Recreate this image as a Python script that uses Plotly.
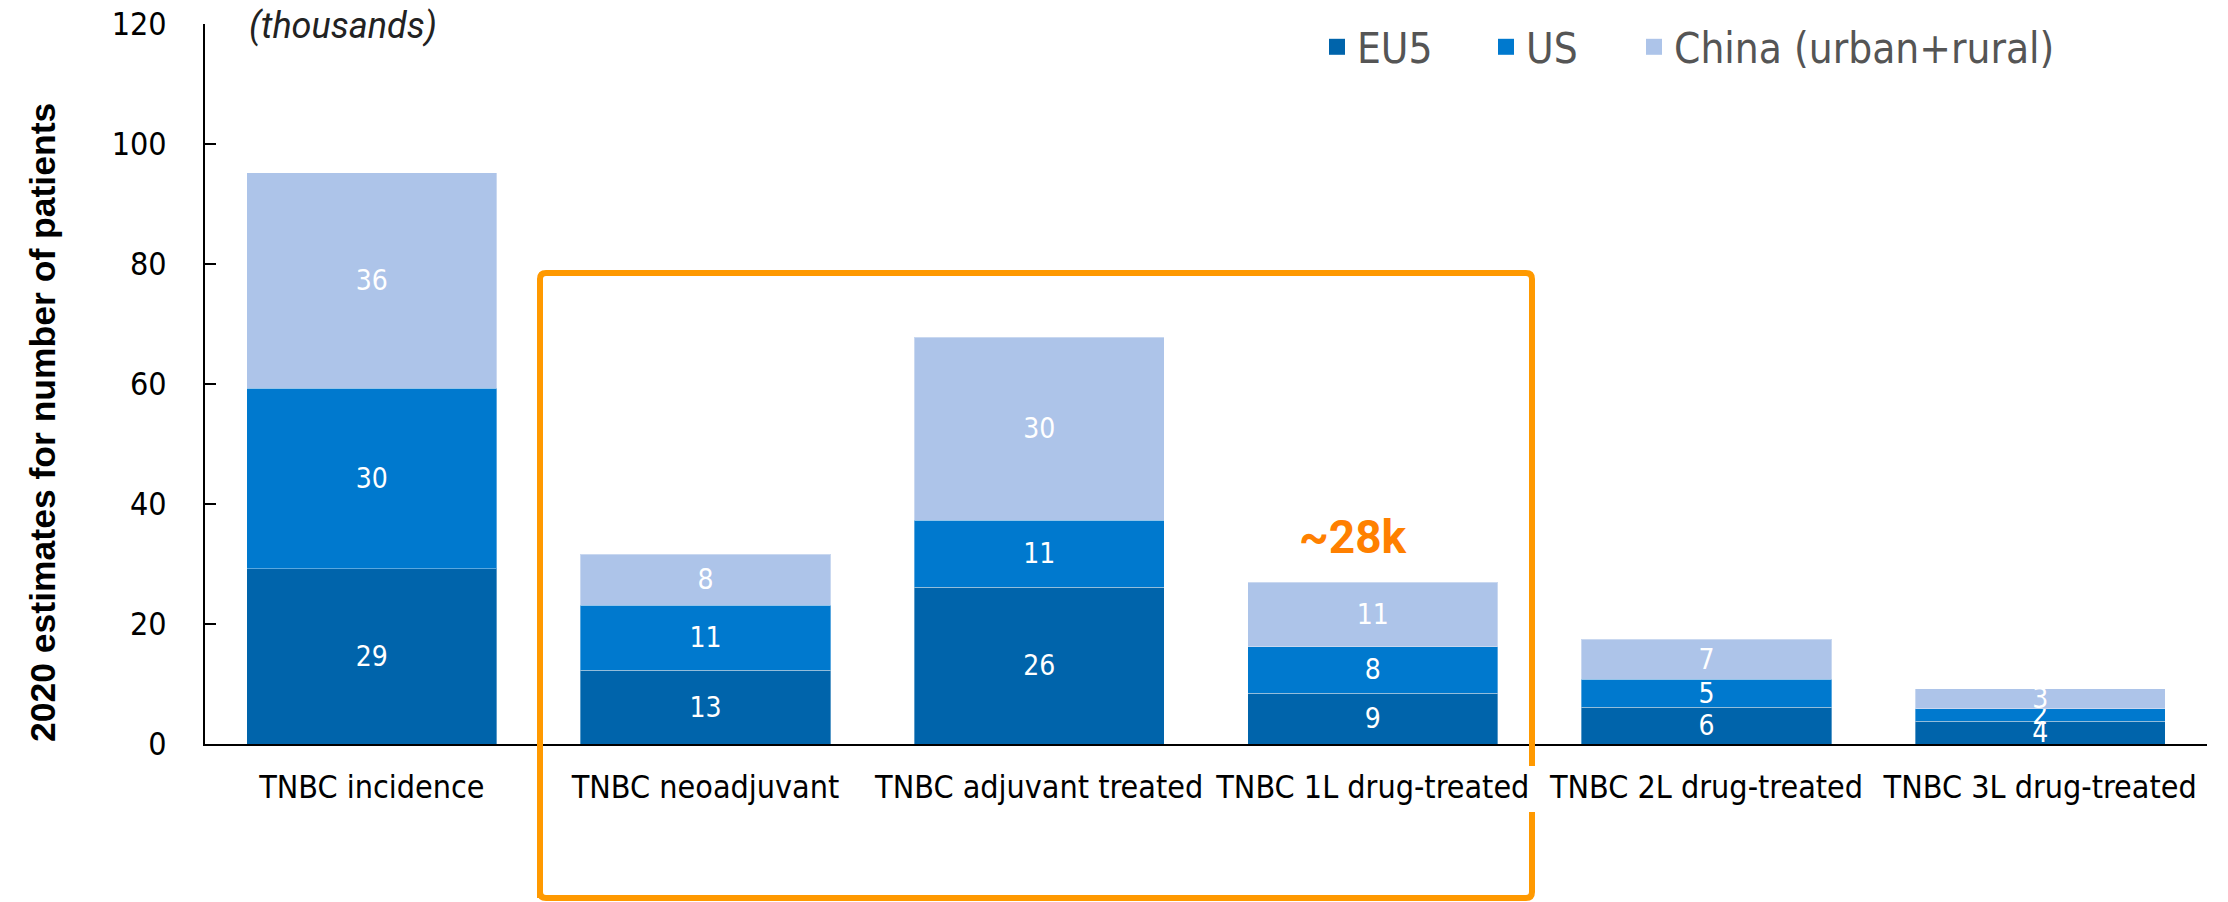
import plotly.graph_objects as go

categories = ["TNBC incidence", "TNBC neoadjuvant", "TNBC adjuvant treated",
              "TNBC 1L drug-treated", "TNBC 2L drug-treated", "TNBC 3L drug-treated"]

# thousands of patients
eu5 = [29.2, 12.3, 26.1, 8.5, 6.1, 3.8]
us = [30.1, 10.8, 11.2, 7.7, 4.7, 2.1]
china = [35.9, 8.5, 30.5, 10.8, 6.7, 3.3]

# labels as printed on the bars
eu5_labels = ["29", "13", "26", "9", "6", "4"]
us_labels = ["30", "11", "11", "8", "5", "2"]
china_labels = ["36", "8", "30", "11", "7", "3"]

y_ticks = [0, 20, 40, 60, 80, 100, 120]

NARROW = "Liberation Sans Narrow, Arial Narrow, DejaVu Sans Condensed, sans-serif"

W, H = 2228, 902
ML, MR, MT, MB = 197, 29, 16, 166
PW, PH = W - ML - MR, H - MT - MB
OFF = 8  # page body margin


def px_x(x):  # page pixel -> paper
    return (x - OFF - ML) / PW


def px_y(y):
    return (H - MB - (y - OFF)) / PH


fig = go.Figure()

series = [("EU5", eu5, eu5_labels, "#0064AB"),
          ("US", us, us_labels, "#0079CE"),
          ("China (urban+rural)", china, china_labels, "#ADC4E9")]
legend_ids = ["legend", "legend2", "legend3"]
legend_x = [1317, 1486, 1634]

for (name, vals, lbls, col), lid in zip(series, legend_ids):
    fig.add_trace(go.Bar(x=categories, y=vals, name=name, text=lbls,
                         textposition="inside", insidetextanchor="middle",
                         constraintext="none", textangle=0,
                         textfont=dict(color="white", size=28, family=NARROW),
                         marker_color=col,
                         marker_line=dict(color="rgba(255,255,255,0.35)", width=1),
                         showlegend=False, hoverinfo="skip"))
    # legend swatch with a bigger square
    fig.add_trace(go.Scatter(x=[None], y=[None], mode="markers", name=name, legend=lid,
                             marker=dict(symbol="square", size=16, color=col)))

legend_style = dict(orientation="h", xanchor="left", yanchor="middle", y=px_y(47),
                    font=dict(size=42, color="#555555", family=NARROW),
                    bgcolor="rgba(0,0,0,0)")

fig.update_layout(
    barmode="stack",
    bargap=0.25,
    width=W, height=H,
    margin=dict(l=ML, r=MR, t=MT, b=MB, autoexpand=False),
    paper_bgcolor="white",
    plot_bgcolor="rgba(0,0,0,0)",
    font=dict(family=NARROW, color="black"),
    legend=dict(x=px_x(legend_x[0]), **legend_style),
    legend2=dict(x=px_x(legend_x[1]), **legend_style),
    legend3=dict(x=px_x(legend_x[2]), **legend_style),
    showlegend=True,
)

fig.update_xaxes(showline=True, linecolor="black", linewidth=2, ticks="",
                 tickfont=dict(size=32, family=NARROW, color="black"),
                 ticklabelstandoff=14, range=[-0.5, 5.5], automargin=False)
fig.update_yaxes(range=[0, 120], tickvals=y_ticks, showgrid=False, zeroline=False,
                 showline=True, linecolor="black", linewidth=2,
                 ticks="inside", ticklen=11, tickwidth=2, tickcolor="black",
                 tickfont=dict(size=32, family=NARROW, color="black"),
                 ticklabelstandoff=30, ticklabeloverflow="allow", automargin=False)

# y-axis title
fig.add_annotation(text="<b>2020 estimates for number of patients</b>", textangle=-90,
                   xref="paper", yref="paper", x=px_x(43), y=px_y(423),
                   xanchor="center", yanchor="middle", showarrow=False,
                   font=dict(size=35.5, family="Liberation Sans, Arial, sans-serif", color="black"))

fig.add_annotation(text="<i>(thousands)</i>", xref="paper", yref="paper",
                   x=px_x(247), y=px_y(26), xanchor="left", yanchor="middle", showarrow=False,
                   font=dict(size=36, family="Roboto, sans-serif", color="#222222"))

# callout over 1L bar
fig.add_annotation(text="<b>~28k</b>", xref="paper", yref="paper",
                   x=px_x(1353), y=px_y(537), xanchor="center", yanchor="middle",
                   showarrow=False,
                   font=dict(size=46, family="Roboto, sans-serif", color="#FF8000"))

# orange highlight frame (right edge broken where the tick label sits)
x0, x1 = px_x(540), px_x(1532)
y0, y1 = px_y(898), px_y(273)
gap_top, gap_bot = px_y(766), px_y(812)
rx, ry = 6 / PW, 6 / PH
path = (f"M {x0},{y0} L {x0},{y1 - ry} Q {x0},{y1} {x0 + rx},{y1} "
        f"L {x1 - rx},{y1} Q {x1},{y1} {x1},{y1 - ry} L {x1},{gap_top} "
        f"M {x1},{gap_bot} L {x1},{y0 + ry} Q {x1},{y0} {x1 - rx},{y0} "
        f"L {x0 + rx},{y0} Q {x0},{y0} {x0},{y0 + ry}")
fig.add_shape(type="path", path=path, xref="paper", yref="paper",
              line=dict(color="#FF9900", width=6), layer="above")

fig.write_html("out.html")
